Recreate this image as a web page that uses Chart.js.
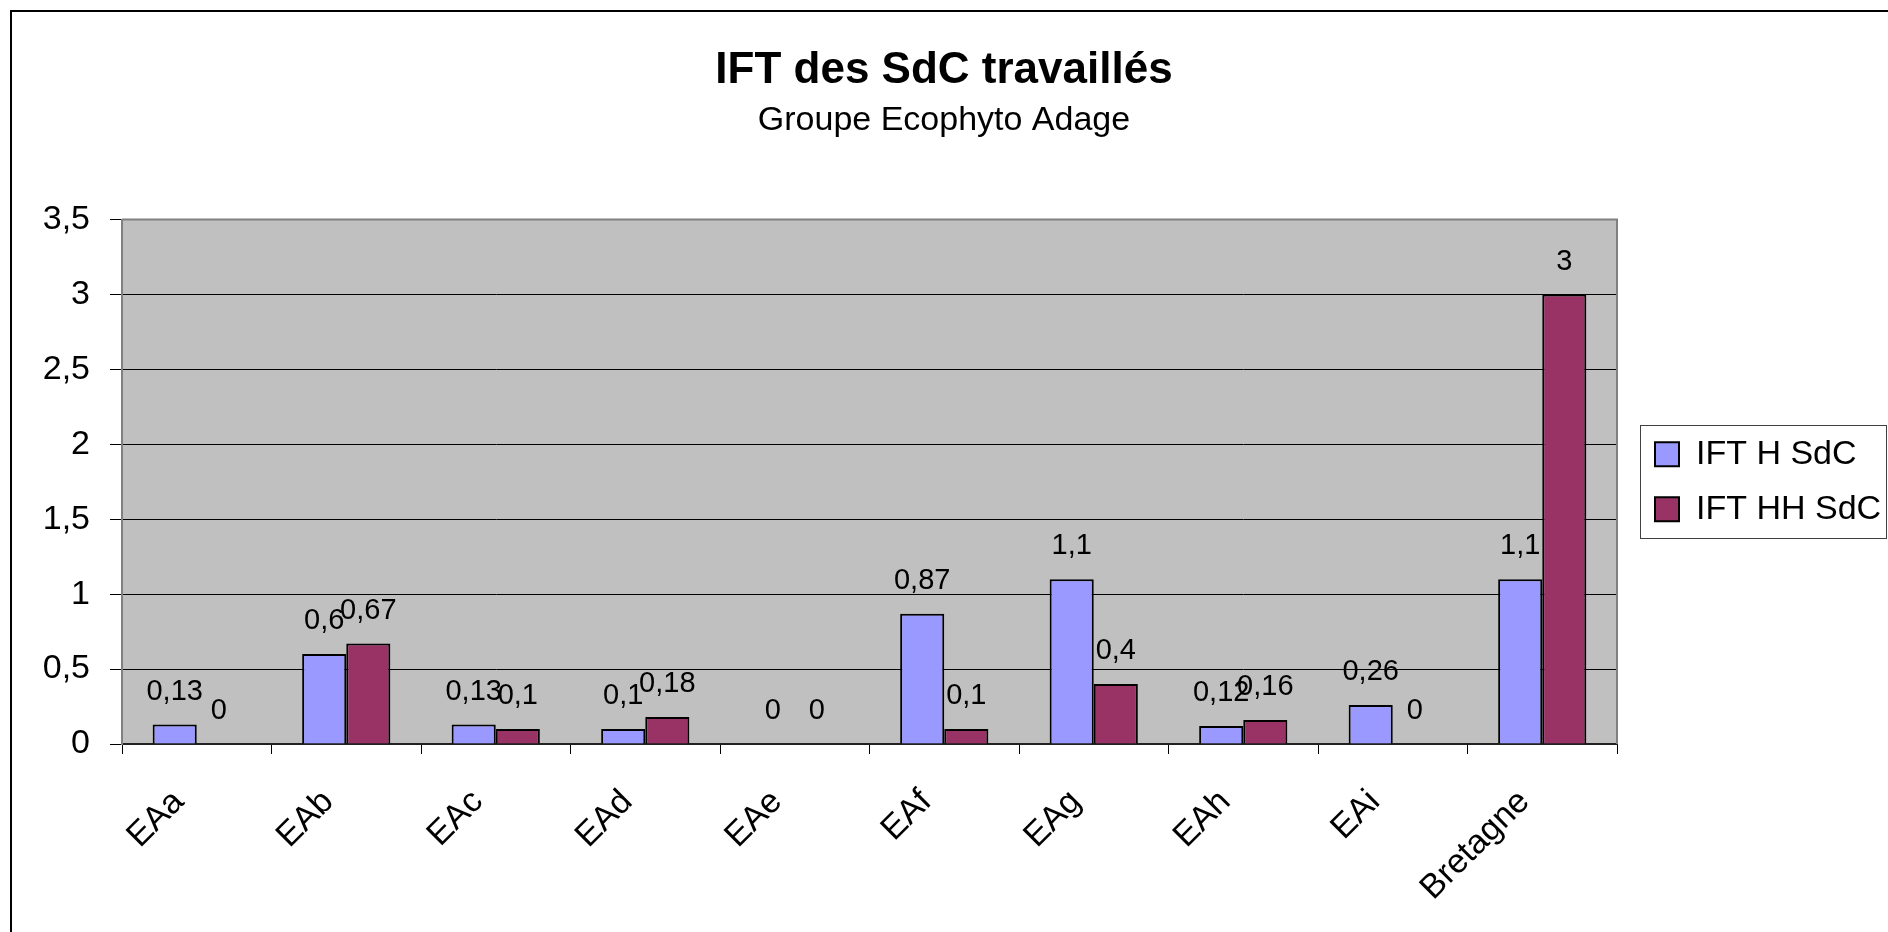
<!DOCTYPE html>
<html lang="fr">
<head>
<meta charset="utf-8">
<title>IFT des SdC travaillés</title>
<script src="https://cdn.jsdelivr.net/npm/chart.js@4.4.1/dist/chart.umd.min.js"></script>
<style>
    html, body { margin: 0; padding: 0; background: #fff; overflow: hidden; }
    #wrap { position: relative; width: 1888px; height: 932px; overflow: hidden; }
    #frame { position: absolute; left: 10px; top: 10px; right: -20px; bottom: -20px;
             border: 2px solid #000; pointer-events: none; }
    canvas { display: block; }
</style>
</head>
<body>
<div id="wrap">
    <canvas id="iftChart" width="1888" height="932"></canvas>
    <div id="frame"></div>
</div>
<script>
// ======================================================
// Data
// ======================================================
const categories = ['EAa', 'EAb', 'EAc', 'EAd', 'EAe', 'EAf', 'EAg', 'EAh', 'EAi', 'Bretagne'];
const iftH  = [0.13, 0.6, 0.13, 0.1, 0, 0.87, 1.1, 0.12, 0.26, 1.1];
const iftHH = [0, 0.67, 0.1, 0.18, 0, 0.1, 0.4, 0.16, 0, 3];
const yTicks = [0, 0.5, 1, 1.5, 2, 2.5, 3, 3.5];

const FONT = '"Liberation Sans", Arial, sans-serif';

// virgule décimale (format FR)
function formatComma(v) {
    return String(v).replace('.', ',');
}

// ======================================================
// Plugins
// ======================================================
// fond gris de la zone de tracé + bord haut/droite
const plotArea = {
    id: 'plotArea',
    beforeDraw(chart) {
        const { ctx, chartArea: a } = chart;
        ctx.save();
        ctx.fillStyle = '#C0C0C0';
        ctx.fillRect(a.left, a.top, a.right - a.left, a.bottom - a.top);
        ctx.restore();
    },
    afterDatasetsDraw(chart) {
        const { ctx, chartArea: a } = chart;
        ctx.save();
        ctx.strokeStyle = '#808080';
        ctx.lineWidth = 2;
        ctx.beginPath();
        ctx.moveTo(a.left, a.top);
        ctx.lineTo(a.right, a.top);
        ctx.lineTo(a.right, a.bottom);
        ctx.stroke();
        ctx.restore();
    }
};

// étiquettes de valeurs au-dessus des barres
const valueLabels = {
    id: 'valueLabels',
    afterDatasetsDraw(chart) {
        const ctx = chart.ctx;
        ctx.save();
        ctx.font = '29px ' + FONT;
        ctx.fillStyle = '#000';
        ctx.textAlign = 'center';
        ctx.textBaseline = 'alphabetic';
        chart.data.datasets.forEach((ds, i) => {
            chart.getDatasetMeta(i).data.forEach((bar, j) => {
                ctx.fillText(formatComma(ds.data[j]), bar.x, bar.y - 25);
            });
        });
        ctx.restore();
    }
};

// légende : largeur fixe + cadre
const legendBox = {
    id: 'legendBox',
    beforeInit(chart) {
        const fit = chart.legend.fit;
        chart.legend.fit = function () {
            fit.call(this);
            this.width = 271;
        };
    },
    afterLayout(chart) {
        chart.legend.left += 17;
        chart.legend.right += 17;
    },
    afterDraw(chart) {
        const lg = chart.legend;
        const pad = lg.options.labels.padding;
        const colH = lg.columnSizes[0].height;
        const top = ((lg.top + pad) + (lg.bottom - colH)) / 2;
        const x0 = lg.left + pad - 15;
        const ctx = chart.ctx;
        ctx.save();
        ctx.strokeStyle = '#404040';
        ctx.lineWidth = 1;
        ctx.strokeRect(Math.round(x0) + 0.5, Math.round(top - 12) + 0.5,
                       1886 - Math.round(x0), colH - pad + 24);
        ctx.restore();
    }
};

// ======================================================
// Chart
// ======================================================
Chart.defaults.font.family = FONT;
Chart.defaults.color = '#000';

new Chart(document.getElementById('iftChart').getContext('2d'), {
    type: 'bar',
    data: {
        labels: categories,
        datasets: [{
            label: 'IFT H SdC',
            data: iftH,
            backgroundColor: '#9999FF',
            borderColor: '#000',
            borderWidth: 2
        }, {
            label: 'IFT HH SdC',
            data: iftHH,
            backgroundColor: '#993366',
            borderColor: '#000',
            borderWidth: 2
        }]
    },
    options: {
        responsive: false,
        animation: false,
        layout: { padding: 0 },
        datasets: {
            bar: { categoryPercentage: 0.59, barPercentage: 1 }
        },
        plugins: {
            title: {
                display: true,
                text: 'IFT des SdC travaillés',
                font: { size: 44, weight: 'bold' },
                color: '#000',
                padding: { top: 44, bottom: 0 }
            },
            subtitle: {
                display: true,
                text: 'Groupe Ecophyto Adage',
                font: { size: 34 },
                color: '#000',
                padding: { top: 3, bottom: 79 }
            },
            legend: {
                position: 'right',
                fullSize: false,
                align: 'center',
                labels: {
                    boxWidth: 24,
                    boxHeight: 24,
                    padding: 21,
                    font: { size: 34 },
                    color: '#000'
                }
            },
            tooltip: { enabled: false }
        },
        scales: {
            x: {
                grid: {
                    drawOnChartArea: false,
                    tickLength: 10,
                    tickColor: '#000'
                },
                border: { color: '#222', width: 2 },
                ticks: {
                    minRotation: 45,
                    maxRotation: 45,
                    autoSkip: false,
                    padding: 28,
                    labelOffset: -18,
                    font: { size: 34 }
                },
                afterFit(scale) { scale.height = 188; }
            },
            y: {
                min: 0,
                max: 3.5,
                afterBuildTicks(scale) {
                    scale.ticks = yTicks.map(v => ({ value: v }));
                },
                grid: {
                    color: '#000',
                    lineWidth: 1,
                    tickLength: 12,
                    tickColor: '#000'
                },
                border: { color: '#808080', width: 2 },
                ticks: {
                    padding: 20,
                    font: { size: 34 },
                    callback: v => formatComma(v)
                },
                afterFit(scale) { scale.width = 122; }
            }
        }
    },
    plugins: [plotArea, valueLabels, legendBox]
});
</script>
</body>
</html>
